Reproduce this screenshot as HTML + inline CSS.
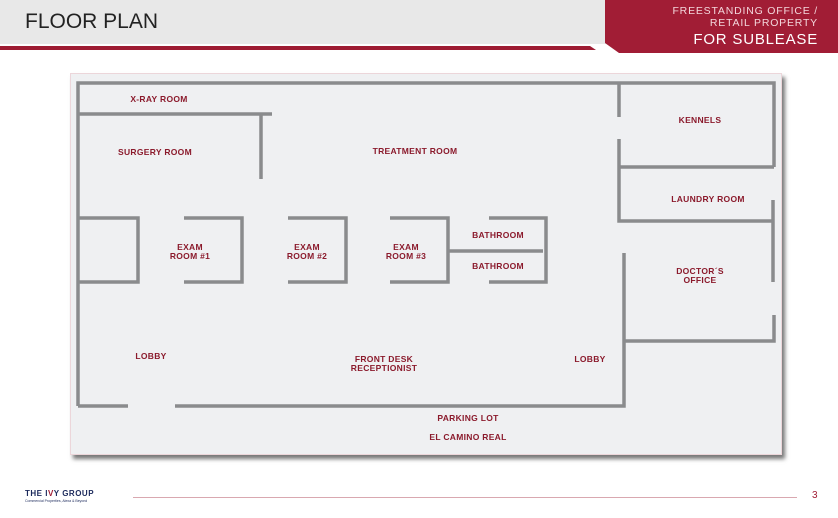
<!DOCTYPE html>
<html><head><meta charset="utf-8"><style>
body{margin:0;width:838px;height:518px;background:#fff;position:relative;overflow:hidden;font-family:"Liberation Sans",sans-serif}
.t{position:absolute;color:#8b1a2c;font-size:8.5px;font-weight:bold;text-align:center;line-height:9px;letter-spacing:0.3px;transform:translateX(-50%);white-space:nowrap}
</style></head><body>
<div style="position:absolute;left:0;top:0;width:838px;height:44px;background:#e8e8e8"></div>
<svg style="position:absolute;left:0;top:0" width="838" height="60">
<polygon points="0,46 590,46 596,50 0,50" fill="#9e1b32"/>
<polygon points="605,0 838,0 838,53 619,53 605,43" fill="#a11d35"/>
</svg>
<div style="position:absolute;left:25px;top:10px;font-size:21px;color:#222;letter-spacing:0px">FLOOR PLAN</div>
<div style="position:absolute;right:20px;top:5px;text-align:right;color:#f3d6db;font-size:10.5px;line-height:12px;letter-spacing:0.8px">FREESTANDING OFFICE /<br>RETAIL PROPERTY</div>
<div style="position:absolute;right:20px;top:31px;color:#fff;font-size:15px;letter-spacing:0.8px">FOR SUBLEASE</div>

<div style="position:absolute;left:70px;top:73px;width:710px;height:380px;background:#eff0f2;border:1px solid #ecd6da;box-shadow:3px 4px 4px #777"></div>
<svg style="position:absolute;left:0;top:0" width="838" height="518" fill="none" stroke="#8a8b8d" stroke-width="3.5">
<path d="M78,406 V83 H774 V167"/>
<path d="M78,406 H128 M175,406 H624 V253"/>
<path d="M78,114 H272 M261,114 V179"/>
<path d="M78,218 H138 V282 H78"/>
<path d="M184,218 H242 V282 H184"/>
<path d="M288,218 H346 V282 H288"/>
<path d="M390,218 H448 V282 H390"/>
<path d="M489,218 H546 V282 H489 M448,251 H543"/>
<path d="M619,83 V117 M619,139 V221 H773 M619,167 H774"/>
<path d="M773,200 V282 M624,341 H774 V315"/>
</svg>
<div class="t" style="left:159px;top:95px">X-RAY ROOM</div>
<div class="t" style="left:155px;top:148px">SURGERY ROOM</div>
<div class="t" style="left:415px;top:147px">TREATMENT ROOM</div>
<div class="t" style="left:700px;top:116px">KENNELS</div>
<div class="t" style="left:708px;top:195px">LAUNDRY ROOM</div>
<div class="t" style="left:190px;top:243px">EXAM<br>ROOM #1</div>
<div class="t" style="left:307px;top:243px">EXAM<br>ROOM #2</div>
<div class="t" style="left:406px;top:243px">EXAM<br>ROOM #3</div>
<div class="t" style="left:498px;top:231px">BATHROOM</div>
<div class="t" style="left:498px;top:262px">BATHROOM</div>
<div class="t" style="left:700px;top:267px">DOCTOR´S<br>OFFICE</div>
<div class="t" style="left:151px;top:352px">LOBBY</div>
<div class="t" style="left:384px;top:355px">FRONT DESK<br>RECEPTIONIST</div>
<div class="t" style="left:590px;top:355px">LOBBY</div>
<div class="t" style="left:468px;top:414px">PARKING LOT</div>
<div class="t" style="left:468px;top:433px">EL CAMINO REAL</div>

<div style="position:absolute;left:25px;top:489px;font-size:8px;font-weight:bold;color:#1c2a5c;letter-spacing:0.5px">THE I<span style="color:#a11d35">V</span>Y GROUP</div>
<div style="position:absolute;left:25px;top:499px;font-size:3.5px;color:#1c2a5c">Commercial Properties, Alexa &amp; Beyond</div>
<div style="position:absolute;left:133px;top:497px;width:664px;height:1px;background:#d9a8b0"></div>
<div style="position:absolute;left:812px;top:490px;font-size:10px;color:#a11d35">3</div>
</body></html>
